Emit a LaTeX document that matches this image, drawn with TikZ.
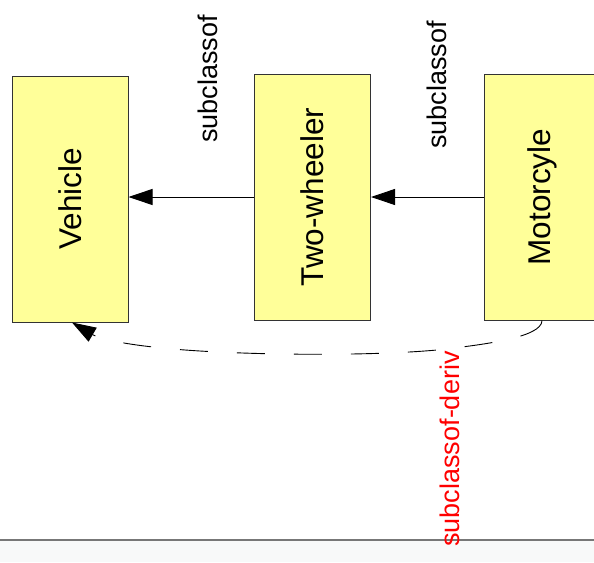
\documentclass[tikz,border=0pt]{standalone}
\usepackage{fontspec}
\setmainfont{Liberation Sans}
\usetikzlibrary{arrows.meta}
\definecolor{boxfill}{HTML}{FFFF99}
\definecolor{boxline}{HTML}{333333}
\definecolor{barfill}{HTML}{F8F9F9}
\definecolor{barline}{HTML}{777777}
\tikzset{
  classbox/.style={draw=boxline, line width=1pt, fill=boxfill, inner sep=0pt,
    minimum width=116pt, minimum height=246pt,
    font=\fontsize{31.5}{36}\selectfont},
  edgelabel/.style={font=\fontsize{27}{32}\selectfont, inner sep=0pt, rotate=90},
  subarrow/.style={draw=black, line width=0.9pt, -{Triangle[length=24pt,width=16pt]}},
  derivarrow/.style={draw=black, line width=0.9pt, dash pattern=on 28pt off 29pt,
    -{Triangle[length=24pt,width=16pt]}}
}
\begin{document}
\begin{tikzpicture}[x=1pt,y=-1pt]
\clip (0,0) rectangle (594,562);
\fill[white] (0,0) rectangle (594,562);
% bottom bar
\fill[barfill] (0,540) rectangle (594,562);
\draw[barline, line width=1.5pt] (0,540) -- (594,540);
% class boxes
\node[classbox] (veh) at (70,199) {\rotatebox{90}{Vehicle}};
\node[classbox] (tw) at (312.5,197) {\rotatebox{90}{Two-wheeler}};
\node[classbox] (mc) at (542,197) {\rotatebox{90}{Motorcyle}};
% subclassof arrows
\draw[subarrow] (tw.west) -- (tw.west -| veh.east);
\draw[subarrow] (mc.west) -- (tw.east);
% labels
\node[edgelabel] (l1) at (208,79) {subclassof};
\node[edgelabel] (l2) at (437,85) {subclassof};
% derived arrow
\draw[derivarrow] (mc.south) .. controls (542,338) and (480,345) .. (437,350)
  .. controls (360,357) and (220,355) .. (153,347)
  .. controls (125,344) and (100,339) .. ([xshift=2pt]veh.south);
\node[edgelabel, text=red] (l3) at (450,449) {subclassof-deriv};
\end{tikzpicture}
\end{document}
